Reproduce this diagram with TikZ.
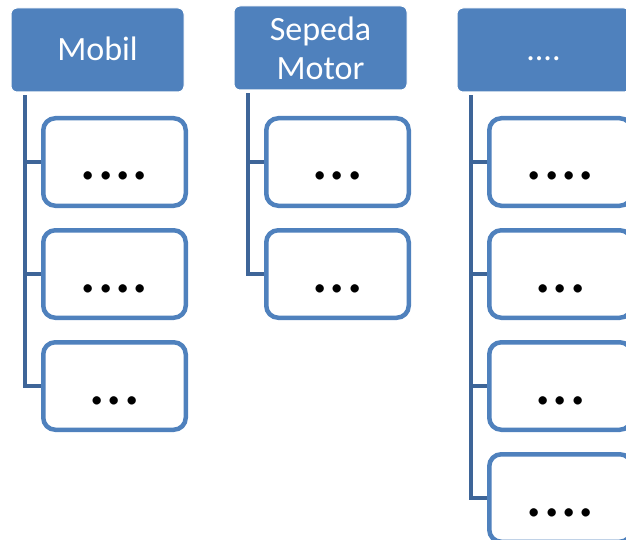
\documentclass[tikz,border=0pt]{standalone}
\usepackage{fontspec}
\setmainfont{Carlito}
\usetikzlibrary{backgrounds}
\definecolor{accent}{RGB}{79,129,189}
\definecolor{linkblue}{RGB}{62,101,152}
\begin{document}
\begin{tikzpicture}[x=1pt,y=-1pt,
  header/.style={fill=accent, draw=white, line width=1pt, rounded corners=6pt,
    minimum width=173pt, minimum height=84pt, inner sep=0pt, text=white,
    font=\fontsize{34}{39}\selectfont, align=center},
  oneline/.style={text height=22pt, text depth=0pt},
  item/.style={draw=accent, line width=4.5pt, fill=white, rounded corners=12pt,
    minimum width=142.5pt, minimum height=87.5pt, inner sep=0pt,
    font=\fontsize{69}{69}\selectfont, text height=36pt, text depth=0pt},
  link/.style={draw=linkblue, line width=4.5pt}]
\useasboundingbox (0,0) rectangle (626,540);

% column headers
\node[header, oneline] (mh) at (97.5,50) {Mobil};
\node[header] (sh) at (320.5,48) {Sepeda\\Motor};
\node[header, oneline] (th) at (543.5,50) {....};

% items of the first column
\node[item] (m1) at (114.5,162) {....};
\node[item] (m2) at (114.5,274) {....};
\node[item] (m3) at (114.5,386) {...};

% items of the second column
\node[item] (s1) at (337.5,162) {...};
\node[item] (s2) at (337.5,274) {...};

% items of the third column
\node[item] (t1) at (560.5,162) {....};
\node[item] (t2) at (560.5,274) {...};
\node[item] (t3) at (560.5,386) {...};
\node[item] (t4) at (560.5,498) {....};

% start points of the tree lines below each header
\coordinate (ma) at ([xshift=14.5pt,yshift=-3pt]mh.south west);
\coordinate (sa) at ([xshift=14.5pt,yshift=-3pt]sh.south west);
\coordinate (ta) at ([xshift=14.5pt,yshift=-3pt]th.south west);

\begin{scope}[on background layer]
  \draw[link] (ma) |- (m3.west);
  \draw[link] (ma |- m1.west) -- (m1.west);
  \draw[link] (ma |- m2.west) -- (m2.west);

  \draw[link] (sa) |- (s2.west);
  \draw[link] (sa |- s1.west) -- (s1.west);

  \draw[link] (ta) |- (t4.west);
  \draw[link] (ta |- t1.west) -- (t1.west);
  \draw[link] (ta |- t2.west) -- (t2.west);
  \draw[link] (ta |- t3.west) -- (t3.west);
\end{scope}
\end{tikzpicture}
\end{document}
